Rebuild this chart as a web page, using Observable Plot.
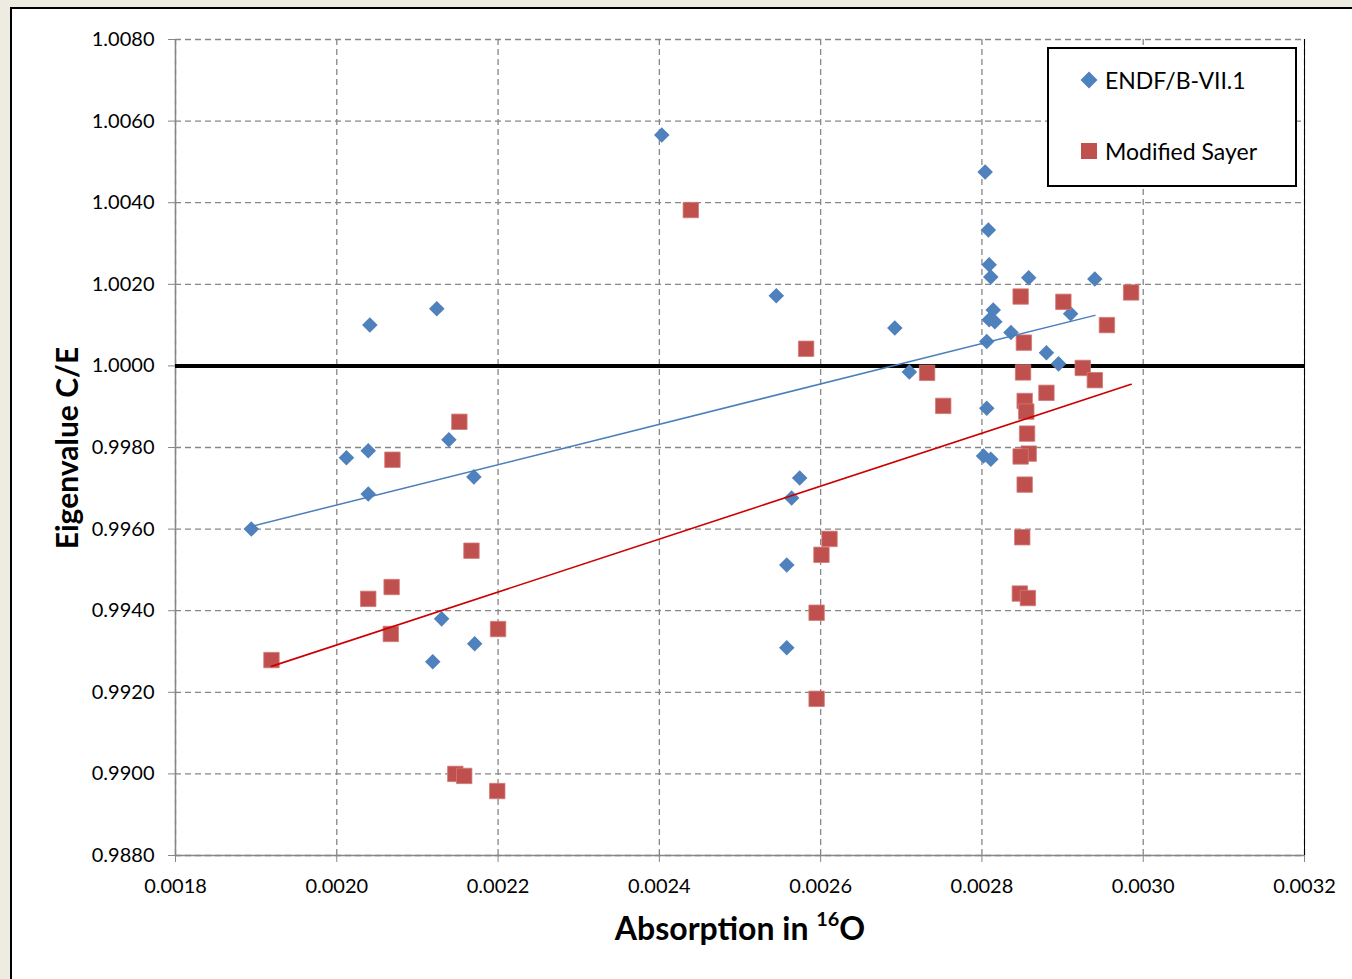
<!DOCTYPE html>
<html>
<head>
<meta charset="utf-8">
<script src="https://cdn.jsdelivr.net/npm/d3@7"></script>
<script src="https://cdn.jsdelivr.net/npm/@observablehq/plot@0.6"></script>
<style>
  html, body { margin: 0; padding: 0; width: 1352px; height: 979px; overflow: hidden; background: #eeece1; font-family: Lato, "Open Sans", sans-serif; }
  #frame { position: absolute; left: 10px; top: 7px; width: 1360px; height: 990px; background: #fff; border: 2px solid #000; box-sizing: border-box; }
  #chart { position: absolute; left: 0; top: 0; }
  #legend { position: absolute; left: 1047px; top: 47px; width: 250px; height: 140px; box-sizing: border-box; border: 2px solid #000; background: #fff; }
  .li { position: absolute; left: 0; font-size: 23px; color: #000; white-space: nowrap; }
  .li svg { position: absolute; left: 30px; }
  .li span { position: absolute; left: 56px; transform: translateY(-50%); }
  #xtitle { position: absolute; left: 740px; top: 927px; transform: translate(-50%, -50%); font-weight: 700; font-size: 32px; white-space: nowrap; color: #000; }
  #xtitle sup { font-size: 0.62em; position: relative; top: -0.1em; vertical-align: top; }
  #ytitle { position: absolute; left: 66px; top: 448px; transform: translate(-50%, -50%) rotate(-90deg); font-weight: 700; font-size: 30px; white-space: nowrap; color: #000; }
</style>
</head>
<body>
<div id="frame"></div>
<div id="chart"></div>
<div id="legend">
  <div class="li" style="top:31px"><svg width="20" height="20" style="top:-10px"><path d="M10,1.5L18.5,10L10,18.5L1.5,10Z" fill="#4f81bd"/></svg><span>ENDF/B-VII.1</span></div>
  <div class="li" style="top:102px"><svg width="20" height="20" style="top:-10px"><rect x="2" y="2" width="16" height="16" fill="#c0504d"/></svg><span>Modified Sayer</span></div>
</div>
<div id="xtitle">Absorption in <sup>16</sup>O</div>
<div id="ytitle">Eigenvalue C/E</div>
<script>
// ENDF/B-VII.1 series
const endfX = [0.001894, 0.002012, 0.002039, 0.002039, 0.002041, 0.002124, 0.002139, 0.002170, 0.002130, 0.002119, 0.002171,
  0.002403, 0.002545, 0.002574, 0.002564, 0.002558, 0.002558, 0.002692, 0.002710,
  0.002804, 0.002808, 0.002809, 0.002811, 0.002858, 0.002940, 0.002814, 0.002809, 0.002816, 0.002836, 0.002806,
  0.002910, 0.002880, 0.002895, 0.002806, 0.002802, 0.002811];
const endfY = [0.99600, 0.99775, 0.99792, 0.99686, 1.00100, 1.00140, 0.99819, 0.99728, 0.99380, 0.99275, 0.99319,
  1.00566, 1.00172, 0.99725, 0.99676, 0.99512, 0.99309, 1.00093, 0.99985,
  1.00475, 1.00333, 1.00248, 1.00218, 1.00216, 1.00213, 1.00137, 1.00113, 1.00108, 1.00082, 1.00060,
  1.00128, 1.00032, 1.00005, 0.99896, 0.99779, 0.99771];
// Modified Sayer series
const sayerX = [0.001919, 0.002039, 0.002068, 0.002067, 0.002069, 0.002152, 0.002167, 0.002200, 0.002147, 0.002158, 0.002199,
  0.002439, 0.002582, 0.002611, 0.002601, 0.002595, 0.002595, 0.002732, 0.002752,
  0.002848, 0.002901, 0.002985, 0.002955, 0.002852, 0.002925, 0.002940, 0.002851, 0.002880, 0.002853, 0.002855,
  0.002856, 0.002858, 0.002848, 0.002853, 0.002850, 0.002847, 0.002857];
const sayerY = [0.99279, 0.99429, 0.99458, 0.99343, 0.99770, 0.99863, 0.99547, 0.99355, 0.99000, 0.98995, 0.98958,
  1.00382, 1.00042, 0.99576, 0.99537, 0.99395, 0.99184, 0.99983, 0.99902,
  1.00170, 1.00157, 1.00180, 1.00100, 1.00057, 0.99995, 0.99965, 0.99984, 0.99934, 0.99914, 0.99888,
  0.99834, 0.99785, 0.99778, 0.99709, 0.99580, 0.99442, 0.99431];
const xTicks = [0.0018, 0.0020, 0.0022, 0.0024, 0.0026, 0.0028, 0.0030, 0.0032];
const yTicks = [0.9880, 0.9900, 0.9920, 0.9940, 0.9960, 0.9980, 1.0000, 1.0020, 1.0040, 1.0060, 1.0080];
const refLine = [1.0];

const endf = endfX.map((x, i) => ({x, y: endfY[i]}));
const sayer = sayerX.map((x, i) => ({x, y: sayerY[i]}));
const fmt = d3.format(".4f");
const gridColor = "#868686";

const chart = Plot.plot({
  width: 1352,
  height: 979,
  marginLeft: 175,
  marginRight: 48,
  marginTop: 39,
  marginBottom: 124,
  style: {background: "transparent", fontFamily: "Lato, 'Open Sans', sans-serif", fontSize: "20px", color: "#000"},
  x: {domain: [0.0018, 0.0032], label: null},
  y: {domain: [0.988, 1.008], label: null},
  marks: [
    Plot.gridX(xTicks, {stroke: gridColor, strokeOpacity: 1, strokeWidth: 1.3, strokeDasharray: "6,4"}),
    Plot.gridY(yTicks, {stroke: gridColor, strokeOpacity: 1, strokeWidth: 1.3, strokeDasharray: "6,4"}),
    Plot.ruleX([xTicks[xTicks.length - 1]], {stroke: "#000", strokeWidth: 1}),
    Plot.ruleX([xTicks[0]], {stroke: gridColor, strokeWidth: 1.5}),
    Plot.ruleY([yTicks[0]], {stroke: gridColor, strokeWidth: 1.5}),
    Plot.axisX(xTicks, {tickFormat: fmt, tickSize: 7, tickPadding: 16, stroke: gridColor, fill: "#000", label: null}),
    Plot.axisY(yTicks, {tickFormat: fmt, tickSize: 7, tickPadding: 14, stroke: gridColor, fill: "#000", label: null}),
    Plot.ruleY(refLine, {stroke: "#000", strokeWidth: 4}),
    Plot.dot(endf, {x: "x", y: "y", symbol: "diamond2", r: 7, fill: "#4f81bd", stroke: "none"}),
    Plot.dot(sayer, {x: "x", y: "y", symbol: "square", r: 8.7, fill: "#c0504d", stroke: "#d07a77", strokeWidth: 0.8}),
    Plot.linearRegressionY(endf, {x: "x", y: "y", stroke: "#4a7ebb", strokeWidth: 1.5, ci: 0}),
    Plot.linearRegressionY(sayer, {x: "x", y: "y", stroke: "#cc0000", strokeWidth: 1.6, ci: 0})
  ]
});
document.getElementById("chart").appendChild(chart);
</script>
</body>
</html>
